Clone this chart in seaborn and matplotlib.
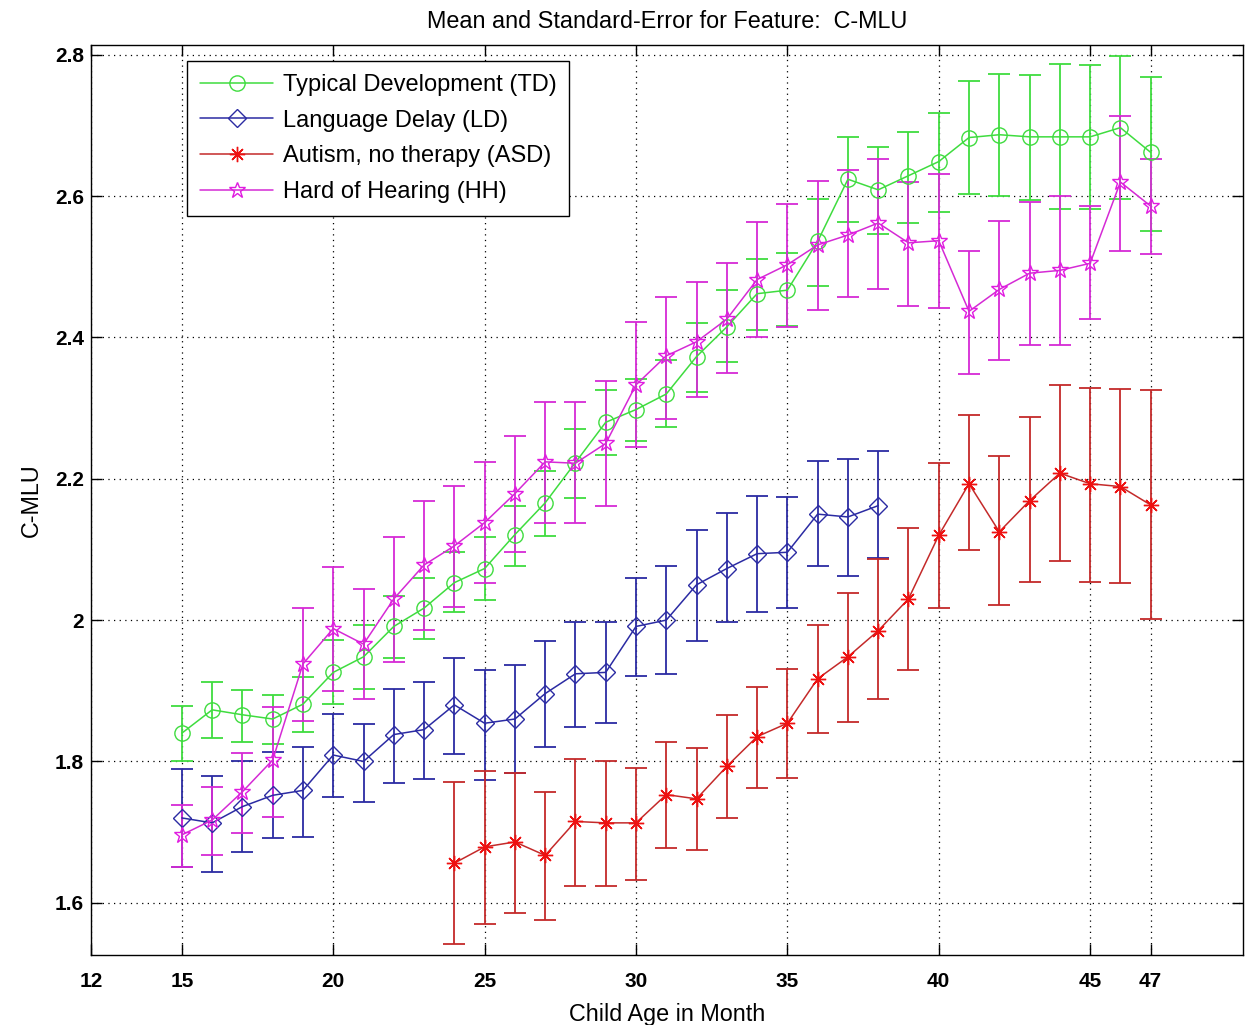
import numpy as np
import matplotlib
matplotlib.use("Agg")
import matplotlib.pyplot as plt
import seaborn as sns

# ---------------- data ----------------
months_td = list(range(15, 48))
td_mean = [1.840, 1.873, 1.866, 1.860, 1.881, 1.926, 1.948, 1.991, 2.017, 2.053, 2.073,
           2.121, 2.166, 2.223, 2.280, 2.298, 2.320, 2.373, 2.415, 2.462, 2.467, 2.536,
           2.624, 2.609, 2.629, 2.649, 2.683, 2.687, 2.684, 2.684, 2.684, 2.697, 2.662]
td_upper = [1.878, 1.913, 1.901, 1.894, 1.919, 1.972, 1.993, 2.034, 2.060, 2.096, 2.117,
            2.162, 2.211, 2.271, 2.326, 2.341, 2.368, 2.420, 2.467, 2.511, 2.519, 2.596,
            2.684, 2.670, 2.691, 2.718, 2.763, 2.773, 2.772, 2.787, 2.786, 2.798, 2.768]
td_lower = [1.800, 1.833, 1.828, 1.825, 1.842, 1.881, 1.903, 1.947, 1.973, 2.011, 2.029,
            2.077, 2.119, 2.173, 2.233, 2.254, 2.273, 2.323, 2.366, 2.411, 2.416, 2.473,
            2.564, 2.547, 2.562, 2.578, 2.603, 2.600, 2.595, 2.582, 2.582, 2.596, 2.551]

months_ld = list(range(15, 39))
ld_mean = [1.720, 1.713, 1.736, 1.752, 1.759, 1.809, 1.800, 1.838, 1.845, 1.880, 1.854, 1.860,
           1.896, 1.924, 1.926, 1.991, 2.000, 2.050, 2.073, 2.094, 2.096, 2.150, 2.146, 2.162]
ld_upper = [1.789, 1.780, 1.800, 1.813, 1.820, 1.867, 1.853, 1.903, 1.913, 1.946, 1.930, 1.937,
            1.970, 1.998, 1.998, 2.060, 2.077, 2.128, 2.151, 2.176, 2.174, 2.225, 2.228, 2.239]
ld_lower = [1.650, 1.643, 1.672, 1.691, 1.693, 1.749, 1.742, 1.770, 1.775, 1.810, 1.774, 1.784,
            1.820, 1.848, 1.854, 1.921, 1.924, 1.970, 1.998, 2.012, 2.017, 2.077, 2.063, 2.088]

months_asd = list(range(24, 48))
asd_mean = [1.656, 1.679, 1.686, 1.667, 1.715, 1.713, 1.713, 1.753, 1.747, 1.793, 1.835, 1.854,
            1.917, 1.948, 1.985, 2.030, 2.120, 2.193, 2.125, 2.169, 2.208, 2.193, 2.189, 2.163]
asd_upper = [1.771, 1.786, 1.784, 1.757, 1.804, 1.800, 1.790, 1.827, 1.819, 1.866, 1.905, 1.931,
             1.993, 2.038, 2.086, 2.131, 2.222, 2.290, 2.232, 2.287, 2.333, 2.329, 2.327, 2.326]
asd_lower = [1.541, 1.570, 1.586, 1.576, 1.624, 1.623, 1.632, 1.677, 1.675, 1.720, 1.763, 1.777,
             1.840, 1.856, 1.888, 1.930, 2.017, 2.099, 2.021, 2.054, 2.084, 2.054, 2.052, 2.001]

months_hh = list(range(15, 48))
hh_mean = [1.696, 1.717, 1.757, 1.802, 1.938, 1.988, 1.966, 2.030, 2.078, 2.105, 2.138,
           2.179, 2.224, 2.222, 2.250, 2.333, 2.374, 2.394, 2.426, 2.482, 2.503, 2.531,
           2.545, 2.562, 2.534, 2.537, 2.437, 2.468, 2.491, 2.495, 2.505, 2.620, 2.586]
hh_upper = [1.738, 1.764, 1.812, 1.877, 2.017, 2.075, 2.044, 2.118, 2.168, 2.190, 2.224,
            2.260, 2.308, 2.308, 2.339, 2.422, 2.458, 2.478, 2.505, 2.563, 2.589, 2.622,
            2.637, 2.653, 2.620, 2.632, 2.523, 2.565, 2.592, 2.600, 2.586, 2.714, 2.653]
hh_lower = [1.651, 1.668, 1.699, 1.721, 1.857, 1.900, 1.888, 1.941, 1.986, 2.019, 2.052,
            2.096, 2.137, 2.137, 2.161, 2.245, 2.285, 2.316, 2.350, 2.400, 2.415, 2.439,
            2.457, 2.469, 2.445, 2.442, 2.348, 2.368, 2.389, 2.389, 2.426, 2.523, 2.518]

labels = ["Typical Development (TD)", "Language Delay (LD)",
          "Autism, no therapy (ASD)", "Hard of Hearing (HH)"]
x_ticks = [12, 15, 20, 25, 30, 35, 40, 45, 47]
y_ticks = [1.6, 1.8, 2.0, 2.2, 2.4, 2.6, 2.8]
y_ticklabels = ["1.6", "1.8", "2", "2.2", "2.4", "2.6", "2.8"]

# ---------------- style ----------------
sns.set_style("white")
plt.rcParams["font.family"] = ["Liberation Sans", "DejaVu Sans"]
plt.rcParams["text.color"] = "black"
plt.rcParams["axes.labelcolor"] = "black"

fig = plt.figure(figsize=(12.47, 10.25), dpi=100)
ax = fig.add_axes([0.073, 0.0683, 0.9238, 0.8878])

series = [
    (months_td, td_mean, td_upper, td_lower, "#3fdc3f", "#3fdc3f", "o", 11, 1.0),
    (months_ld, ld_mean, ld_upper, ld_lower, "#2b2ba3", "#2b2ba3", "D", 9, 1.0),
    (months_asd, asd_mean, asd_upper, asd_lower, "#c42a2a", "#ee1111", (8, 2, 0), 11, 1.0),
    (months_hh, hh_mean, hh_upper, hh_lower, "#d52ad5", "#e01ce0", "*", 12, 1.0),
]

handles = []
for (mx, mean, up, lo, col, mcol, mk, ms, mew), lab in zip(series, labels):
    mean_a = np.array(mean)
    yerr = [mean_a - np.array(lo), np.array(up) - mean_a]
    ax.errorbar(mx, mean, yerr=yerr, fmt="none", ecolor=col, elinewidth=1.3,
                capsize=8, capthick=1.3, zorder=2)
    sns.lineplot(x=mx, y=mean, ax=ax, color=col, linewidth=1.1,
                 marker=mk, markersize=ms, markerfacecolor="none",
                 markeredgecolor=mcol, markeredgewidth=mew, zorder=3)
    handles.append(ax.lines[-1])
    handles[-1].set_label(lab)

ax.set_xlim(12, 50.05)
ax.set_ylim(1.526, 2.814)
ax.set_xticks(x_ticks)
ax.set_xticklabels([str(t) for t in x_ticks])
ax.set_yticks(y_ticks)
ax.set_yticklabels(y_ticklabels)

ax.grid(True, color="black", linestyle=(0, (1, 3.5)), linewidth=0.9)
ax.tick_params(direction="in", length=8, width=1, top=True, right=True,
               bottom=True, left=True, colors="black", labelsize=15)
ax.tick_params(axis="x", pad=12)
ax.tick_params(axis="y", pad=5)
for t in ax.get_xticklabels() + ax.get_yticklabels():
    t.set_fontweight("bold")
for s in ax.spines.values():
    s.set_visible(True)
    s.set_color("black")
    s.set_linewidth(1.0)

ax.set_title("Mean and Standard-Error for Feature:  C-MLU", fontsize=16.8, pad=12,
             color="black")
ax.set_xlabel("Child Age in Month", fontsize=16.8, labelpad=9, color="black")
ax.set_ylabel("C-MLU", fontsize=16.8, labelpad=9, color="black")

leg = ax.legend(handles=handles, labels=labels, loc="upper left",
                bbox_to_anchor=(0.0833, 0.9824), borderaxespad=0, fontsize=17,
                frameon=True, fancybox=False, edgecolor="black", framealpha=1,
                handlelength=3.1, handletextpad=0.4, borderpad=0.55, labelspacing=0.58)
leg.get_frame().set_linewidth(1.0)
for t in leg.get_texts():
    t.set_color("black")

fig.savefig("out.png", dpi=100)
